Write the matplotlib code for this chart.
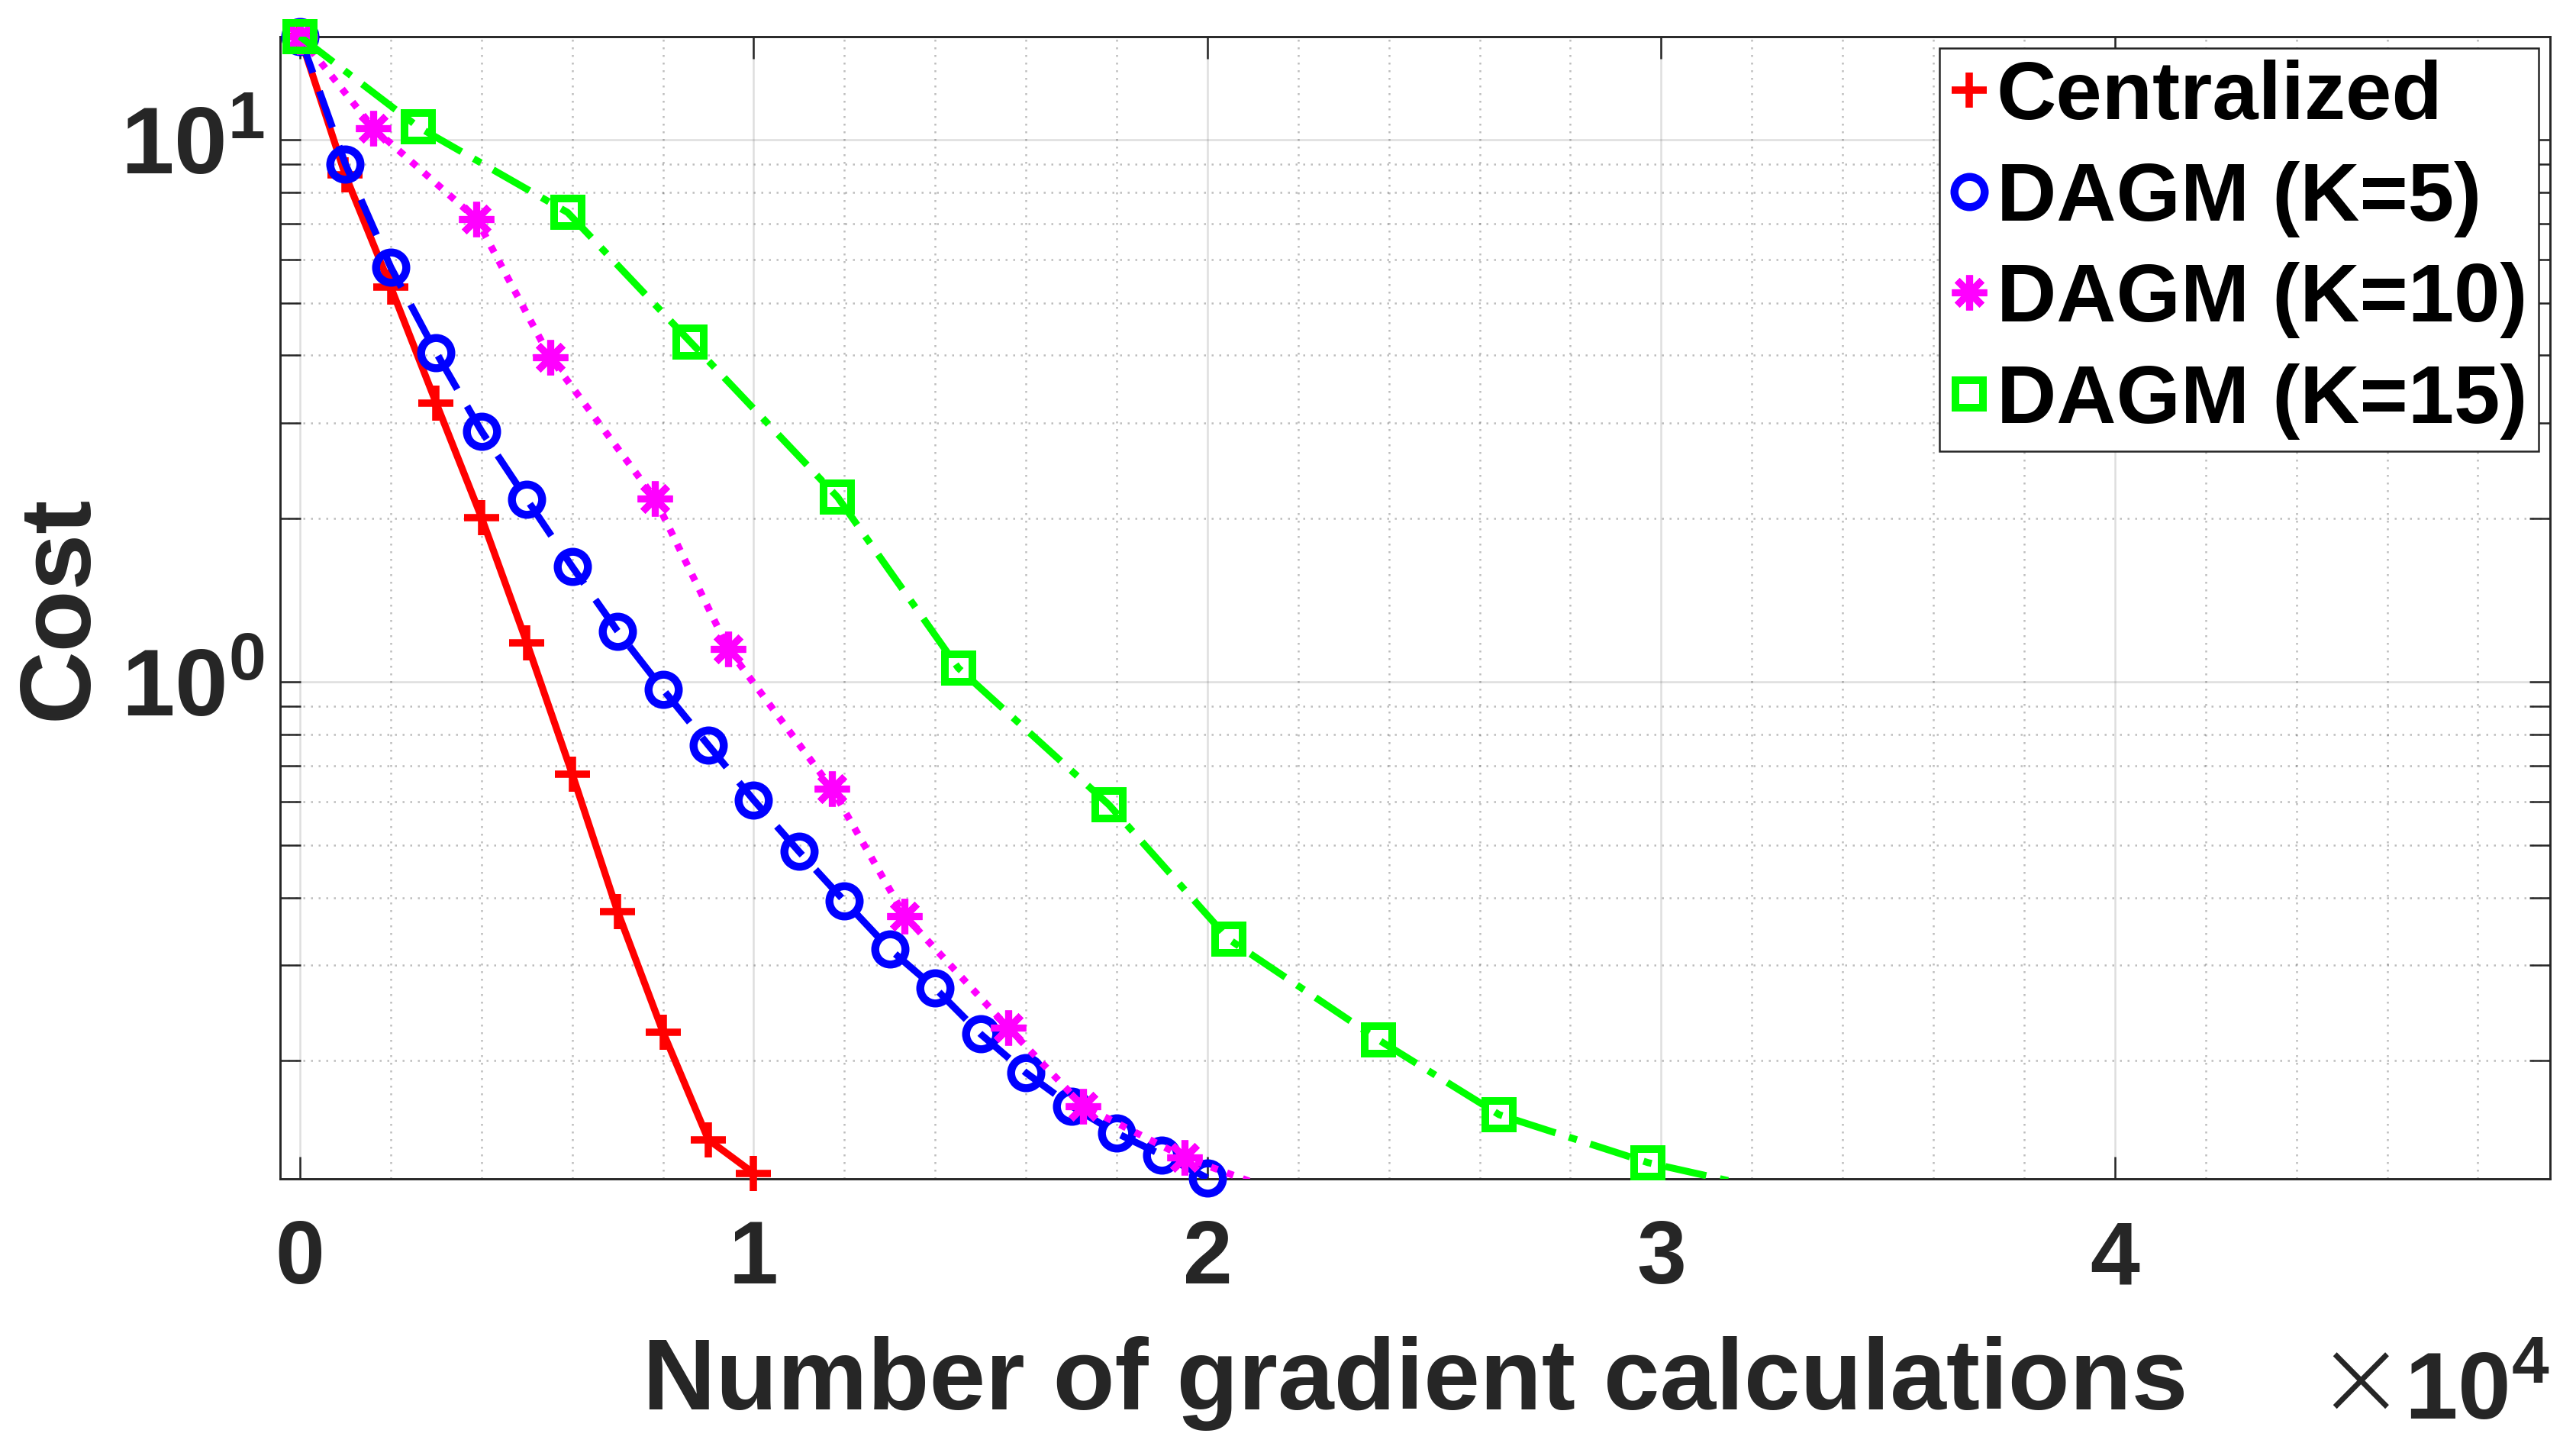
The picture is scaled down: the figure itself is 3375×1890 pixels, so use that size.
import numpy as np
import matplotlib.pyplot as plt
from matplotlib.lines import Line2D
from matplotlib.ticker import FixedLocator, MultipleLocator, LogLocator, FuncFormatter, NullFormatter

plt.rcParams['font.family'] = ['Liberation Sans', 'DejaVu Sans']
plt.rcParams['font.weight'] = 'bold'
plt.rcParams['mathtext.fontset'] = 'custom'
plt.rcParams['mathtext.rm'] = 'Liberation Sans:weight=normal'
plt.rcParams['mathtext.bf'] = 'Liberation Sans:bold'

# ---- data ----
x_cent = [0, 1000, 2000, 3000, 4000, 5000, 6000, 7000, 8000, 9000, 10000]
cost_cent = [15.5, 8.6, 5.35, 3.27, 2.01, 1.18, 0.676, 0.377, 0.226, 0.143, 0.124]

x_k5 = [0, 1000, 2000, 3000, 4000, 5000, 6000, 7000, 8000, 9000, 10000,
        11000, 12000, 13000, 14000, 15000, 16000, 17000, 18000, 19000, 20000]
cost_k5 = [15.5, 9.02, 5.82, 4.05, 2.90, 2.17, 1.63, 1.24, 0.968, 0.764, 0.605,
           0.486, 0.394, 0.321, 0.272, 0.224, 0.190, 0.165, 0.147, 0.134, 0.1215]

x_k10 = [0, 1620, 3890, 5510, 7820, 9440, 11720, 13330, 15610, 17260, 19500]
cost_k10 = [15.5, 10.5, 7.14, 3.97, 2.18, 1.15, 0.636, 0.370, 0.230, 0.165, 0.1326]
k10_tail = (21150, 0.118)   # next iterate, below the visible range

x_k15 = [0, 2610, 5900, 8600, 11850, 14510, 17830, 20470, 23770, 26430, 29710]
cost_k15 = [15.5, 10.55, 7.34, 4.24, 2.19, 1.06, 0.593, 0.335, 0.2185, 0.159, 0.1297]
k15_tail = (32400, 0.1155)

labels = ['Centralized', 'DAGM (K=5)', 'DAGM (K=10)', 'DAGM (K=15)']
x_ticks = [0, 10000, 20000, 30000, 40000]
x_ticklabels = ['0', '1', '2', '3', '4']

dark = '#262626'

fig = plt.figure(figsize=(11.25, 6.3), dpi=300)
ax = fig.add_axes([0.1087, 0.1831, 0.8812, 0.7915])
ax.set_yscale('log')

series = [
    (x_cent, cost_cent, None, '#ff0000', '-', None, '+', 11, 2.3),
    (x_k5, cost_k5, None, '#0000ff', '--', (5.5, 2.8), 'o', 9.5, 2.5),
    (x_k10, cost_k10, k10_tail, '#ff00ff', ':', (1, 1.4), (8, 2, 0), 11, 2.2),
    (x_k15, cost_k15, k15_tail, '#00ff00', '-.', (6, 2, 1.2, 2), 's', 8.5, 2.4),
]

handles = []
for i, (xs, ys, tail, col, ls, dashes, mk, ms, mew) in enumerate(series):
    lx, ly = list(xs), list(ys)
    if tail is not None:
        lx.append(tail[0])
        ly.append(tail[1])
    ln, = ax.plot(lx, ly, color=col, ls=ls, lw=2.2, zorder=3 + i)
    if dashes is not None:
        ln.set_dashes(dashes)
    # markers are not clipped at the box, like the original figure
    ax.plot(xs, ys, ls='none', marker=mk, ms=ms, mew=mew, mec=col, mfc='none',
            color=col, clip_on=False, zorder=3 + i)
    handles.append(Line2D([], [], ls='none', marker=mk, ms=ms, mew=mew, mec=col,
                          mfc='none', color=col))

ax.set_xlim(-440, 49590)
ax.set_ylim(0.1211, 15.49)

ax.xaxis.set_major_locator(FixedLocator(x_ticks))
ax.set_xticklabels(x_ticklabels)
ax.xaxis.set_minor_locator(MultipleLocator(2000))
ax.yaxis.set_major_locator(FixedLocator([1, 10]))
ax.yaxis.set_major_formatter(FuncFormatter(lambda v, p: r'$\mathbf{10^{%d}}$' % round(np.log10(v))))
ax.yaxis.set_minor_locator(LogLocator(base=10, subs=np.arange(2, 10)))
ax.yaxis.set_minor_formatter(NullFormatter())

ax.tick_params(which='both', direction='in', top=True, right=True, color=dark,
               width=0.6, labelcolor=dark, labelsize=28)
ax.tick_params(axis='x', which='major', length=7, pad=12.5)
ax.tick_params(axis='x', which='minor', length=0)
ax.tick_params(axis='y', which='both', length=6.5, pad=5)
for t in ax.get_yticklabels():
    t.set_fontsize(30)

ax.grid(True, which='major', color=dark, alpha=0.15, lw=0.6, ls='-')
ax.grid(True, which='minor', color=dark, alpha=0.3, lw=0.6, ls=(0, (1, 3)))
ax.set_axisbelow(True)
for sp in ax.spines.values():
    sp.set_color(dark)
    sp.set_linewidth(0.7)

ax.set_xlabel('Number of gradient calculations', fontsize=31.8, fontweight='bold', color=dark)
ax.xaxis.set_label_coords(0.5, -0.138)
ax.set_ylabel('Cost', fontsize=31.8, fontweight='bold', color=dark)
ax.yaxis.set_label_coords(-0.076, 0.5)

# x-axis exponent: thin multiplication sign, bold 10^4
ax.text(1.0, -0.21, r'$\mathbf{10^{4}}$', transform=ax.transAxes,
        ha='right', va='baseline', fontsize=30, color=dark)
ax.text(0.9165, -0.207, '×', transform=ax.transAxes, ha='center', va='baseline',
        fontsize=34, fontweight='light', family=['DejaVu Sans'], color=dark)

leg = ax.legend(handles, labels, loc='upper right', bbox_to_anchor=(0.995, 0.990),
                borderaxespad=0, fontsize=26, handlelength=0.45, handletextpad=0.1,
                borderpad=0.14, labelspacing=0.30, fancybox=False, framealpha=1)
leg.get_frame().set_edgecolor(dark)
leg.get_frame().set_linewidth(0.6)
for t in leg.get_texts():
    t.set_fontweight('bold')
    t.set_color('black')

fig.savefig('out.png', dpi=300)
